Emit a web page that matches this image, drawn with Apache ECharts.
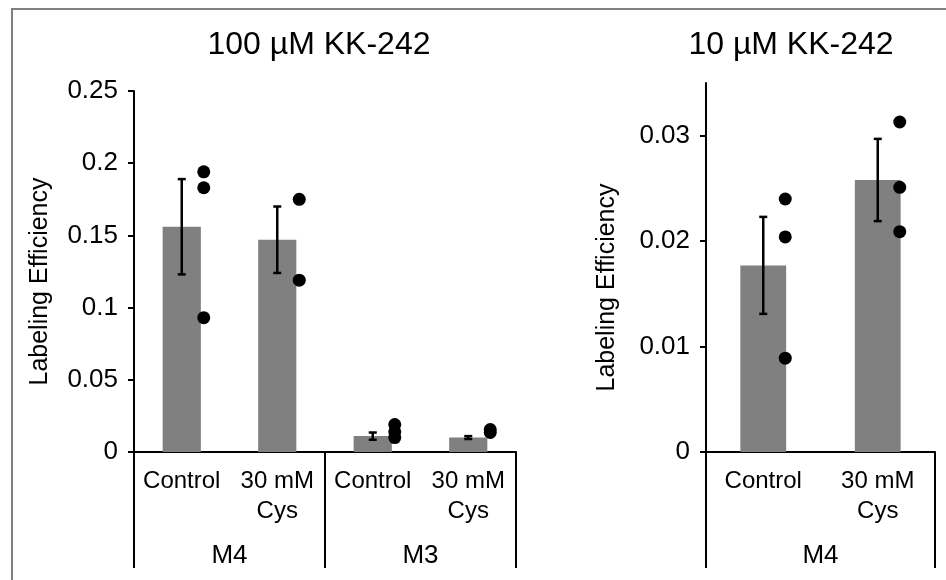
<!DOCTYPE html>
<html>
<head>
<meta charset="utf-8">
<script src="https://cdn.jsdelivr.net/npm/echarts@6/dist/echarts.min.js"></script>
<style>
  html, body { margin: 0; padding: 0; background: #fff; }
  #chart { width: 946px; height: 580px; }
</style>
</head>
<body>
<div id="chart"></div>
<script>
// ---- Data ----
const leftCategories = ['Control', '30 mM\nCys', 'Control', '30 mM\nCys'];
const leftGroups = ['M4', 'M3'];
const leftMeans = [0.156, 0.147, 0.011, 0.010];
const leftErrors = [0.033, 0.023, 0.0025, 0.001];
const leftPoints = [[0.194, 0.183, 0.093], [0.175, 0.119], [0.019, 0.014, 0.010], [0.0155, 0.0135]];
const leftTicks = [0, 0.05, 0.1, 0.15, 0.2, 0.25];

const rightCategories = ['Control', '30 mM\nCys'];
const rightGroups = ['M4'];
const rightMeans = [0.0177, 0.0258];
const rightErrors = [0.0046, 0.0039];
const rightPoints = [[0.0240, 0.0204, 0.0089], [0.0313, 0.0251, 0.0209]];
const rightTicks = [0, 0.01, 0.02, 0.03];

const titles = ['100 µM KK-242', '10 µM KK-242'];
const yName = 'Labeling Efficiency';

// ---- Layout ----
const FONT = '"Liberation Sans", Arial, Helvetica, sans-serif';
const grids = [
  { left: 134, top: 91, width: 382, height: 361 },
  { left: 706, top: 83, width: 229, height: 369 }
];
const titleCenters = [319, 791];

function errData(means, errs) { return means.map((m, i) => [i, m - errs[i], m + errs[i]]); }
function ptData(pts) { const out = []; pts.forEach((arr, i) => arr.forEach(v => out.push([i, v]))); return out; }
function errRender(params, api) {
  const lo = api.coord([api.value(0), api.value(1)]);
  const hi = api.coord([api.value(0), api.value(2)]);
  const x = lo[0], hw = 4;
  const st = { stroke: '#000', lineWidth: 2.5 };
  return { type: 'group', children: [
    { type: 'line', shape: { x1: x, y1: lo[1], x2: x, y2: hi[1] }, style: st },
    { type: 'line', shape: { x1: x - hw, y1: lo[1], x2: x + hw, y2: lo[1] }, style: st },
    { type: 'line', shape: { x1: x - hw, y1: hi[1], x2: x + hw, y2: hi[1] }, style: st }
  ]};
}
function catAxis(gi, cats) {
  return {
    type: 'category', gridIndex: gi, data: cats, position: 'bottom',
    axisLine: { show: true, lineStyle: { color: '#000', width: 2 } },
    axisTick: { show: false },
    axisLabel: { interval: 0, margin: 14, color: '#000', fontSize: 24, fontFamily: FONT, lineHeight: 30, verticalAlign: 'top' }
  };
}
function groupAxis(gi, groups) {
  return {
    type: 'category', gridIndex: gi, data: groups, position: 'bottom',
    axisLine: { show: false },
    axisTick: { show: true, length: 116, lineStyle: { color: '#000', width: 2 } },
    axisLabel: { interval: 0, margin: 91, color: '#000', fontSize: 26, fontFamily: FONT, verticalAlign: 'top' }
  };
}
function valAxis(gi, max, interval, ticks, gap, shift) {
  return {
    type: 'value', gridIndex: gi, min: 0, max: max, interval: interval,
    name: yName, nameLocation: 'middle', nameGap: gap, nameRotate: 90,
    nameTextStyle: { color: '#000', fontSize: 25, fontFamily: FONT, padding: [0, shift, 0, 0] },
    axisLine: { show: true, lineStyle: { color: '#000', width: 2 } },
    axisTick: { show: true, length: 6, customValues: ticks, lineStyle: { color: '#000', width: 2 } },
    axisLabel: { customValues: ticks, margin: 16, color: '#000', fontSize: 26, fontFamily: FONT },
    splitLine: { show: false }
  };
}

const chart = echarts.init(document.getElementById('chart'));
const titleGraphics = titleCenters.map((cx, i) => ({
  type: 'text', x: cx, y: 29,
  style: { text: titles[i], fill: '#000', font: '32px ' + FONT, textAlign: 'center', textVerticalAlign: 'top' }
}));

chart.setOption({
  backgroundColor: '#fff',
  animation: false,
  grid: grids,
  xAxis: [catAxis(0, leftCategories), groupAxis(0, leftGroups), catAxis(1, rightCategories), groupAxis(1, rightGroups)],
  yAxis: [valAxis(0, 0.25, 0.05, leftTicks, 81, 20), valAxis(1, 0.035, 0.01, rightTicks, 86, 40)],
  graphic: [
    { type: 'polyline', shape: { points: [[12, 580], [12, 9], [946, 9]] }, style: { stroke: '#7f7f7f', lineWidth: 2, fill: null } }
  ].concat(titleGraphics),
  series: [
    { type: 'bar', xAxisIndex: 0, yAxisIndex: 0, data: leftMeans, barWidth: '40%', itemStyle: { color: '#808080' } },
    { type: 'custom', xAxisIndex: 0, yAxisIndex: 0, data: errData(leftMeans, leftErrors), renderItem: errRender, encode: { x: 0, y: [1, 2] }, z: 3 },
    { type: 'scatter', xAxisIndex: 0, yAxisIndex: 0, data: ptData(leftPoints), symbolSize: 13, symbolOffset: [22, 0], itemStyle: { color: '#000', opacity: 1 }, z: 4 },
    { type: 'bar', xAxisIndex: 2, yAxisIndex: 1, data: rightMeans, barWidth: '40%', itemStyle: { color: '#808080' } },
    { type: 'custom', xAxisIndex: 2, yAxisIndex: 1, data: errData(rightMeans, rightErrors), renderItem: errRender, encode: { x: 0, y: [1, 2] }, z: 3 },
    { type: 'scatter', xAxisIndex: 2, yAxisIndex: 1, data: ptData(rightPoints), symbolSize: 13, symbolOffset: [22, 0], itemStyle: { color: '#000', opacity: 1 }, z: 4 }
  ]
});
</script>
</body>
</html>
